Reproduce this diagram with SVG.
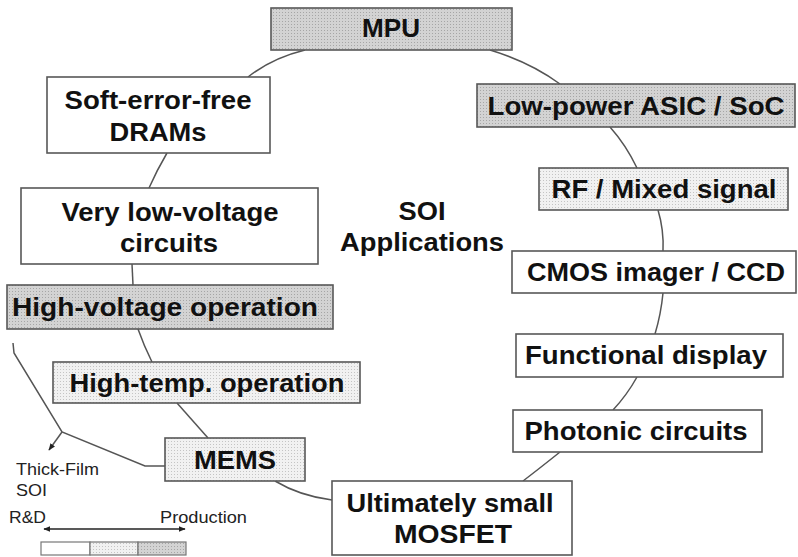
<svg xmlns="http://www.w3.org/2000/svg" width="798" height="557" viewBox="0 0 798 557">
  <style>
    .box { stroke: #585858; stroke-width: 1.6; }
    .plain { fill: #ffffff; }
    .dark { fill: url(#dotDark); }
    .light { fill: url(#dotLight); }
    .t { font-family: "Liberation Sans", Arial, sans-serif; font-weight: bold; font-size: 25px; fill: #111; text-anchor: middle; }
    .s { font-family: "Liberation Sans", Arial, sans-serif; font-size: 17px; fill: #222; }
    .link { fill: none; stroke: #555; stroke-width: 1.5; }
  </style>
  <defs>
    <pattern id="dotDark" width="3" height="3" patternUnits="userSpaceOnUse">
      <rect width="3" height="3" fill="#d3d3d3"/>
      <rect width="1" height="1" fill="#a6a6a6"/>
    </pattern>
    <pattern id="dotLight" width="3" height="3" patternUnits="userSpaceOnUse">
      <rect width="3" height="3" fill="#f1f1f1"/>
      <rect width="1" height="1" fill="#c4c4c4"/>
    </pattern>
    <marker id="head" viewBox="0 0 10 10" refX="9" refY="5" markerWidth="7" markerHeight="7" orient="auto-start-reverse" markerUnits="userSpaceOnUse">
      <path d="M0,1 L10,5 L0,9 z" fill="#222"/>
    </marker>
  </defs>

  <!-- ring connectors between application boxes -->
  <g id="connectors">
    <path class="link" d="M305,50 Q272,58 248,77"/>
    <path class="link" d="M167,153 Q157,170 149,188"/>
    <path class="link" d="M132,264 L133,285"/>
    <path class="link" d="M138,329 Q144,346 152,362"/>
    <path class="link" d="M177,403 Q192,420 208,438"/>
    <path class="link" d="M275,481 Q300,496 332,500"/>
    <path class="link" d="M560,452 Q540,468 523,481"/>
    <path class="link" d="M613,410 Q627,395 637,377"/>
    <path class="link" d="M655,334 Q661,314 663,293"/>
    <path class="link" d="M663,251 Q664,230 658,210"/>
    <path class="link" d="M637,168 Q626,145 610,127"/>
    <path class="link" d="M560,84 Q530,62 490,50"/>
    <!-- thick-film SOI branch -->
    <path class="link" d="M13,343 L14,353 L62,432 L145,466 L165,466"/>
    <path class="link" d="M62,432 L49,450" marker-end="url(#head)"/>
  </g>

  <g id="mpu">
    <rect class="box dark" x="271" y="8" width="241" height="42"/>
    <text class="t" x="391" y="37" textLength="58" lengthAdjust="spacingAndGlyphs">MPU</text>
  </g>

  <g id="dram">
    <rect class="box plain" x="47" y="77" width="223" height="76"/>
    <text class="t" x="158" y="109" textLength="187" lengthAdjust="spacingAndGlyphs">Soft-error-free</text>
    <text class="t" x="158" y="141" textLength="97" lengthAdjust="spacingAndGlyphs">DRAMs</text>
  </g>

  <g id="low-voltage">
    <rect class="box plain" x="21" y="188" width="297" height="76"/>
    <text class="t" x="170" y="221" textLength="217" lengthAdjust="spacingAndGlyphs">Very low-voltage</text>
    <text class="t" x="169" y="252" textLength="98" lengthAdjust="spacingAndGlyphs">circuits</text>
  </g>

  <g id="high-voltage">
    <rect class="box dark" x="7" y="285" width="326" height="44"/>
    <text class="t" x="165" y="316" textLength="306" lengthAdjust="spacingAndGlyphs">High-voltage operation</text>
  </g>

  <g id="high-temp">
    <rect class="box light" x="53" y="362" width="307" height="41"/>
    <text class="t" x="207" y="392" textLength="275" lengthAdjust="spacingAndGlyphs">High-temp. operation</text>
  </g>

  <g id="mems">
    <rect class="box light" x="165" y="438" width="140" height="43"/>
    <text class="t" x="235" y="469" textLength="82" lengthAdjust="spacingAndGlyphs">MEMS</text>
  </g>

  <g id="mosfet">
    <rect class="box plain" x="332" y="481" width="240" height="74"/>
    <text class="t" x="450" y="512" textLength="207" lengthAdjust="spacingAndGlyphs">Ultimately small</text>
    <text class="t" x="453" y="543" textLength="118" lengthAdjust="spacingAndGlyphs">MOSFET</text>
  </g>

  <g id="photonic">
    <rect class="box plain" x="513" y="410" width="249" height="42"/>
    <text class="t" x="636" y="440" textLength="223" lengthAdjust="spacingAndGlyphs">Photonic circuits</text>
  </g>

  <g id="display">
    <rect class="box plain" x="516" y="334" width="267" height="43"/>
    <text class="t" x="646" y="364" textLength="242" lengthAdjust="spacingAndGlyphs">Functional display</text>
  </g>

  <g id="imager">
    <rect class="box plain" x="512" y="251" width="284" height="42"/>
    <text class="t" x="656" y="281" textLength="258" lengthAdjust="spacingAndGlyphs">CMOS imager / CCD</text>
  </g>

  <g id="rf">
    <rect class="box light" x="539" y="168" width="249" height="42"/>
    <text class="t" x="664" y="198" textLength="225" lengthAdjust="spacingAndGlyphs">RF / Mixed signal</text>
  </g>

  <g id="asic">
    <rect class="box dark" x="477" y="84" width="318" height="43"/>
    <text class="t" x="636" y="115" textLength="297" lengthAdjust="spacingAndGlyphs">Low-power ASIC / SoC</text>
  </g>

  <g id="title">
    <text class="t" x="422" y="220" textLength="47" lengthAdjust="spacingAndGlyphs">SOI</text>
    <text class="t" x="422" y="251" textLength="164" lengthAdjust="spacingAndGlyphs">Applications</text>
  </g>

  <!-- legend: thick-film label, R&D to production scale -->
  <g id="legend">
    <text class="s" x="16" y="475" textLength="83" lengthAdjust="spacingAndGlyphs">Thick-Film</text>
    <text class="s" x="16" y="496" textLength="31" lengthAdjust="spacingAndGlyphs">SOI</text>
    <text class="s" x="9" y="523" textLength="37" lengthAdjust="spacingAndGlyphs">R&amp;D</text>
    <text class="s" x="160" y="523" textLength="87" lengthAdjust="spacingAndGlyphs">Production</text>
    <path d="M44,529 L185,529" stroke="#222" stroke-width="1.5" fill="none" marker-start="url(#head)" marker-end="url(#head)"/>
    <rect x="41" y="542" width="49" height="13" fill="#ffffff" stroke="#777" stroke-width="1.2"/>
    <rect x="90" y="542" width="48" height="13" fill="url(#dotLight)" stroke="#777" stroke-width="1.2"/>
    <rect x="138" y="542" width="48" height="13" fill="url(#dotDark)" stroke="#777" stroke-width="1.2"/>
  </g>
</svg>
